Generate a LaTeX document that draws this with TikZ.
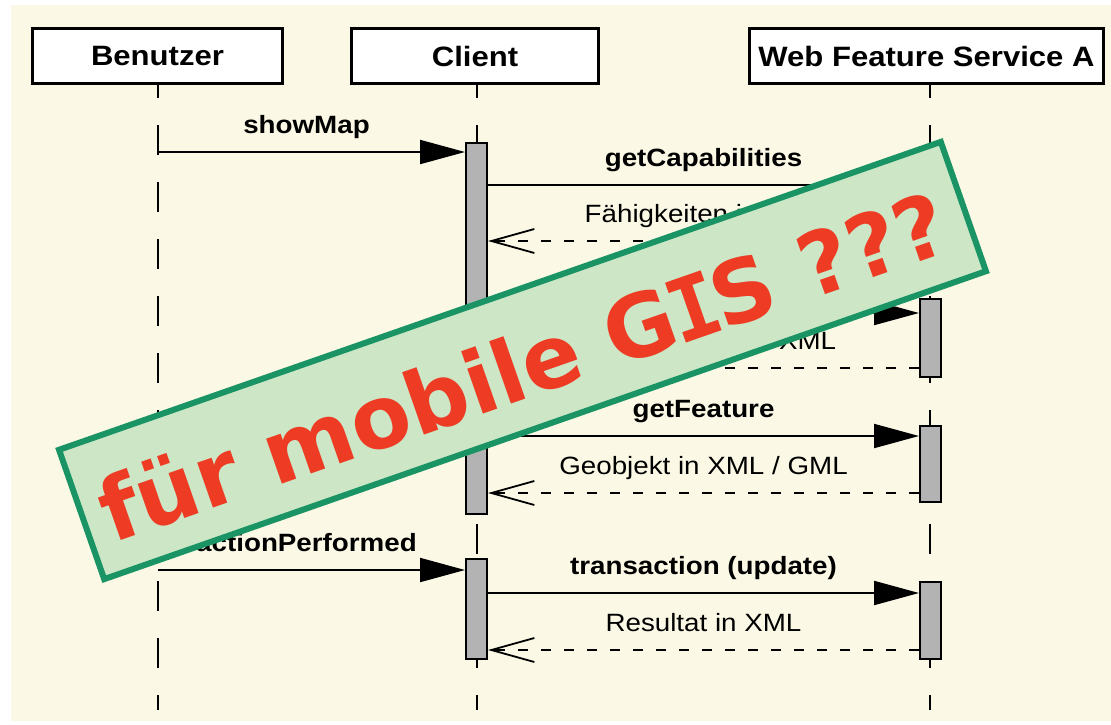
\documentclass[tikz,border=0pt]{standalone}
\usepackage{fontspec}
\setmainfont{Liberation Sans}
\newfontfamily\labelfont[FakeStretch=1.11]{Liberation Sans}
\newfontfamily\bannerfont{DejaVu Sans}
\newfontfamily\bannerslab{DejaVu Sans Mono}
\usetikzlibrary{arrows.meta,calc}

\definecolor{paper}{HTML}{FBF9E5}
\definecolor{bargray}{HTML}{B3B3B3}
\definecolor{bannerfill}{HTML}{CCE6C6}
\definecolor{bannerline}{HTML}{1A9464}
\definecolor{bannertext}{HTML}{EE3B24}

\tikzset{
  header/.style={draw, line width=3pt, fill=white, minimum height=55pt, inner sep=0pt,
    font=\labelfont\bfseries\fontsize{28}{28}\selectfont},
  lifeline/.style={line width=2pt, dash pattern=on 30pt off 27pt, dash phase=17pt},
  actbar/.style={draw, line width=2pt, fill=bargray, minimum width=21pt, inner sep=0pt},
  call/.style={line width=2pt, -{Triangle[length=45pt,width=24pt]}},
  reply/.style={line width=1.8pt, dash pattern=on 10pt off 13pt,
    -{Straight Barb[length=43pt,width=24pt,line width=1.8pt]}},
  calllabel/.style={midway, anchor=base, yshift=19pt,
    font=\labelfont\bfseries\fontsize{25}{25}\selectfont},
  replylabel/.style={midway, anchor=base, yshift=19pt,
    font=\labelfont\fontsize{25}{25}\selectfont},
  banner/.style={rotate=19.25, draw=bannerline, line width=6pt, fill=bannerfill,
    minimum width=934pt, minimum height=137pt, inner sep=0pt},
  bannerlabel/.style={rotate=19.25, inner sep=0pt, text=bannertext,
    font=\bannerfont\bfseries\fontsize{87}{87}\selectfont}
}

\begin{document}
\begin{tikzpicture}[x=1pt,y=-1pt]
\useasboundingbox (0,0) rectangle (1111,724);
\fill[paper] (11,5) rectangle (1111,721);

% object headers
\node[header, minimum width=250pt] (user) at (157.5,56) {Benutzer};
\node[header, minimum width=247pt] (client) at (475,56) {Client};
\node[header, minimum width=354pt] (wfs) at (926.5,56) {Web Feature Service A};

% lifelines
\coordinate (userTop) at (158,85);
\coordinate (clientTop) at (477,85);
\coordinate (wfsTop) at (930,85);
\coordinate (bottom) at (0,710);
\draw[lifeline] (userTop) -- (userTop |- bottom);
\draw[lifeline] (clientTop) -- (clientTop |- bottom);
\draw[lifeline] (wfsTop) -- (wfsTop |- bottom);

% activation bars
\node[actbar, minimum height=371pt] (c1) at (476.5,328.5) {};
\node[actbar, minimum height=100pt] (c2) at (476.5,609) {};
\node[actbar, minimum height=76pt] (w0) at (930.5,214) {};
\node[actbar, minimum height=78pt] (w1) at (930.5,338) {};
\node[actbar, minimum height=76pt] (w2) at (930.5,464) {};
\node[actbar, minimum height=77pt] (w3) at (930.5,620.5) {};

% message heights
\coordinate (yShow) at (158,152);
\coordinate (yCap) at (0,185);
\coordinate (yCapR) at (0,241);
\coordinate (yDesc) at (0,313);
\coordinate (yDescR) at (0,368);
\coordinate (yFeat) at (0,436);
\coordinate (yFeatR) at (0,493);
\coordinate (yAct) at (158,570);
\coordinate (yTrans) at (0,593);
\coordinate (yTransR) at (0,650);

% messages
\draw[call] (yShow) -- (yShow -| c1.west) node[calllabel, xshift=-5pt] {showMap};
\draw[call] (c1.east |- yCap) -- (w0.west |- yCap) node[calllabel] {getCapabilities};
\draw[reply] (w0.west |- yCapR) -- (c1.east |- yCapR) node[replylabel] {Fähigkeiten in XML};
\draw[call] (c1.east |- yDesc) -- (w1.west |- yDesc) node[calllabel] {describeFeatureType};
\draw[reply] (w1.west |- yDescR) -- (c1.east |- yDescR) node[replylabel] {GML-Schema in XML};
\draw[call] (c1.east |- yFeat) -- (w2.west |- yFeat) node[calllabel] {getFeature};
\draw[reply] (w2.west |- yFeatR) -- (c1.east |- yFeatR) node[replylabel] {Geobjekt in XML / GML};
\draw[call] (yAct) -- (yAct -| c2.west) node[calllabel, xshift=-5pt] {actionPerformed};
\draw[call] (c2.east |- yTrans) -- (w3.west |- yTrans) node[calllabel] {transaction (update)};
\draw[reply] (w3.west |- yTransR) -- (c2.east |- yTransR) node[replylabel] {Resultat in XML};

% banner across the diagram
\node[banner] (stamp) at (522.5,360.5) {};
\node[bannerlabel] (stampText) at ($(stamp.center)+(0,5)$)
  {für mobile G{\bannerslab\bfseries\hspace{-0.06em}I\hspace{-0.06em}}S ???};
\end{tikzpicture}
\end{document}
